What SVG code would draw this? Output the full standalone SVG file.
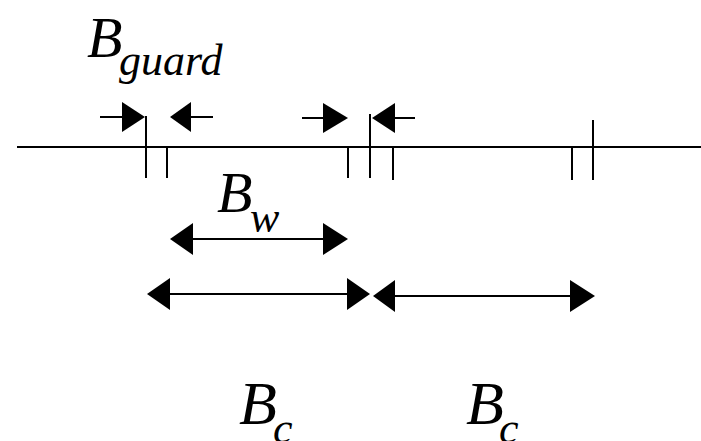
<svg xmlns="http://www.w3.org/2000/svg" width="701" height="441" viewBox="0 0 701 441">
<defs>
<polygon id="hr" points="-23,-15 0,0 -23,15" fill="#000"/>
</defs>
<rect width="701" height="441" fill="#fff"/>
<g id="axis" stroke="#000" stroke-width="2">
<line x1="17" y1="147" x2="701" y2="147"/>
</g>
<g id="ticks" stroke="#000" stroke-width="2">
<line x1="146" y1="116" x2="146" y2="178"/>
<line x1="167" y1="147" x2="167" y2="178"/>
<line x1="348" y1="147" x2="348" y2="178"/>
<line x1="370" y1="114" x2="370" y2="178"/>
<line x1="393" y1="147" x2="393" y2="180"/>
<line x1="572" y1="147" x2="572" y2="180"/>
<line x1="593" y1="120" x2="593" y2="180"/>
</g>
<g id="connectors">
<g stroke="#000" stroke-width="2">
<line x1="100" y1="117" x2="124" y2="117"/>
<line x1="189" y1="117" x2="213" y2="117"/>
<line x1="302" y1="118" x2="325" y2="118"/>
<line x1="393" y1="118" x2="415" y2="118"/>
<line x1="190" y1="239" x2="325" y2="239"/>
<line x1="168" y1="294" x2="349" y2="294"/>
<line x1="393" y1="296" x2="572" y2="296"/>
</g>
<g fill="#000">
<polygon points="122,102 145,117 122,132"/>
<polygon points="191,102 170,117 191,132"/>
<polygon points="323,103 348,118 323,133"/>
<polygon points="395,103 372,118 395,133"/>
<polygon points="193,223 170,239 193,255"/>
<polygon points="323,223 348,239 323,255"/>
<polygon points="170,278 147,294 170,310"/>
<polygon points="347,278 370,294 347,310"/>
<polygon points="395,280 373,296 395,312"/>
<polygon points="570,280 595,296 570,312"/>
</g>
</g>
<g id="label-guard">
<text x="87" y="57" font-family="Liberation Serif" font-style="italic" font-size="58">B</text>
<text x="119" y="75" font-family="Liberation Serif" font-style="italic" font-size="44">guard</text>
</g>
<g id="label-w">
<text x="217" y="212" font-family="Liberation Serif" font-style="italic" font-size="58">B</text>
<text x="250" y="232" font-family="Liberation Serif" font-style="italic" font-size="44">w</text>
</g>
<g id="label-c1">
<text x="239" y="424" font-family="Liberation Serif" font-style="italic" font-size="62">B</text>
<text x="273" y="443" font-family="Liberation Serif" font-style="italic" font-size="44">c</text>
</g>
<g id="label-c2">
<text x="466" y="424" font-family="Liberation Serif" font-style="italic" font-size="62">B</text>
<text x="499" y="443" font-family="Liberation Serif" font-style="italic" font-size="44">c</text>
</g>
</svg>
